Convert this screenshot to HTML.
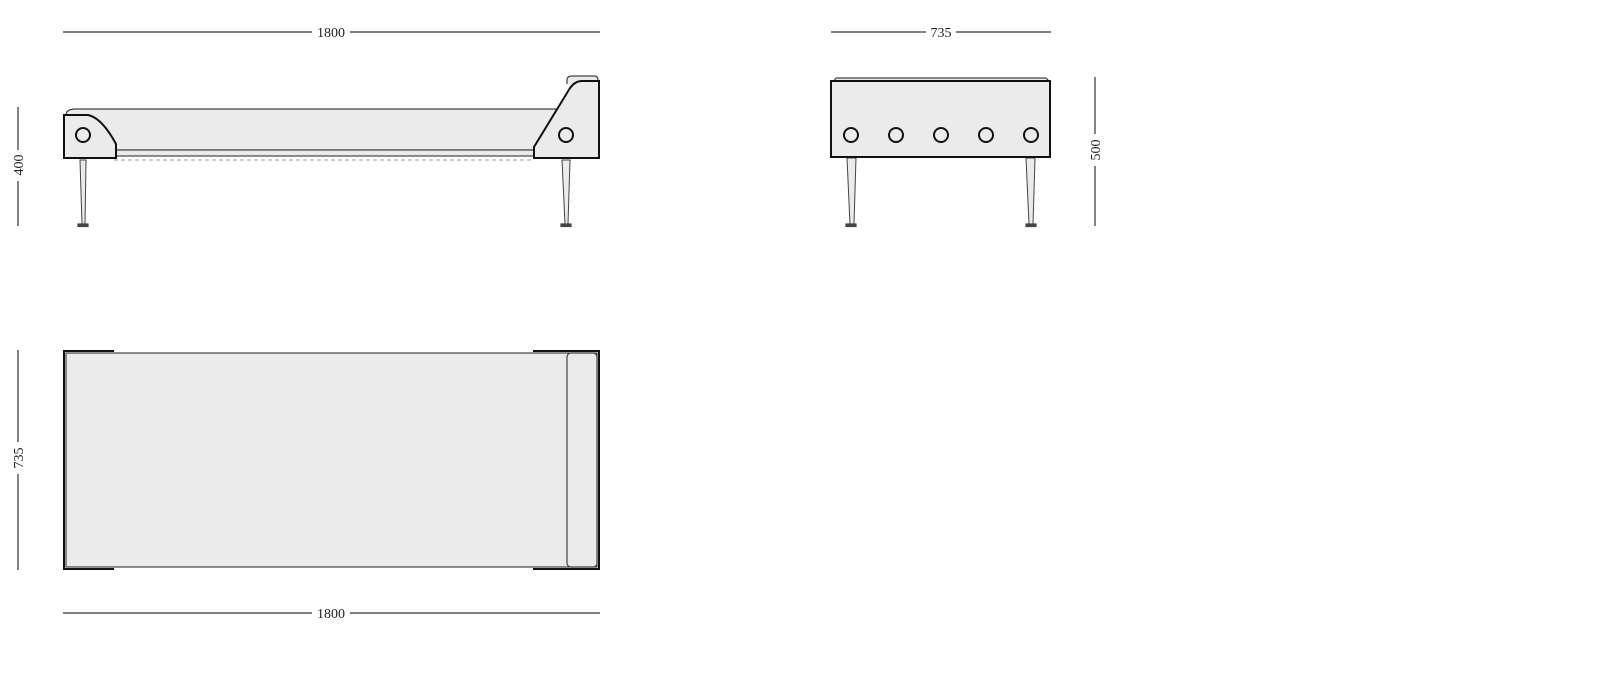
<!DOCTYPE html>
<html><head><style>html,body{margin:0;padding:0;background:#fff}svg{display:block}text{font-family:"Liberation Serif",serif;font-size:14px;fill:#222}</style></head>
<body>
<svg width="1600" height="674" viewBox="0 0 1600 674" xmlns="http://www.w3.org/2000/svg">
<g stroke="#333" stroke-width="1.2" fill="none">
<!-- dims -->
<line x1="63" y1="32" x2="312" y2="32"/><line x1="350" y1="32" x2="600" y2="32"/>
<line x1="831" y1="32" x2="926" y2="32"/><line x1="956" y1="32" x2="1051" y2="32"/>
<line x1="63" y1="613" x2="312" y2="613"/><line x1="350" y1="613" x2="600" y2="613"/>
<line x1="18" y1="107" x2="18" y2="150"/><line x1="18" y1="181" x2="18" y2="226"/>
<line x1="18" y1="350" x2="18" y2="442"/><line x1="18" y1="474" x2="18" y2="570"/>
<line x1="1095" y1="77" x2="1095" y2="134"/><line x1="1095" y1="166" x2="1095" y2="226"/>
</g>
<text x="331" y="37" text-anchor="middle">1800</text>
<text x="941" y="37" text-anchor="middle">735</text>
<text x="331" y="618" text-anchor="middle">1800</text>
<text transform="translate(23,165) rotate(-90)" text-anchor="middle">400</text>
<text transform="translate(23,458) rotate(-90)" text-anchor="middle">735</text>
<text transform="translate(1100,150) rotate(-90)" text-anchor="middle">500</text>

<!-- side view -->
<g stroke="#444" stroke-width="1.2">
<path d="M66,115 Q66,109 76,109 L556,109 L556,150 L66,150 Z" fill="#ebebeb"/>
<rect x="114" y="150" width="420" height="6" fill="#ebebeb"/>
<line x1="114" y1="160" x2="534" y2="160" stroke="#777" stroke-width="0.8" stroke-dasharray="4,3"/>
<path d="M80,160 L86,160 L85,224 L82,224 Z" fill="#ebebeb" stroke-width="1"/>
<rect x="78" y="224" width="10" height="2.5" fill="#444"/>
<path d="M562,160 L570,160 L568,224 L565,224 Z" fill="#ebebeb" stroke-width="1"/>
<rect x="561" y="224" width="10" height="2.5" fill="#444"/>
<path d="M567,84 L567,80 Q567,76 572,76 L594,76 Q598,76 598,80 L598,84" fill="#ebebeb"/>
</g>
<g stroke="#111" stroke-width="2" fill="#ebebeb">
<path d="M64,115 L88,115 Q102,118 116,144 L116,158 L64,158 Z"/>
<path d="M534,147 L570,88 Q575,81 582,81 L599,81 L599,158 L534,158 Z"/>
<circle cx="83" cy="135" r="7"/><circle cx="566" cy="135" r="7"/>
</g>

<!-- front view -->
<g stroke="#444" stroke-width="1.2">
<path d="M834,81 L836,78 L1046,78 L1049,81" fill="#ebebeb"/>
<path d="M847,158 L856,158 L854,224 L850,224 Z" fill="#ebebeb" stroke-width="1"/>
<rect x="846" y="224" width="10" height="2.5" fill="#444"/>
<path d="M1026,158 L1035,158 L1033,224 L1029,224 Z" fill="#ebebeb" stroke-width="1"/>
<rect x="1026" y="224" width="10" height="2.5" fill="#444"/>
</g>
<g stroke="#111" stroke-width="2" fill="#ebebeb">
<rect x="831" y="81" width="219" height="76"/>
<circle cx="851" cy="135" r="7"/><circle cx="896" cy="135" r="7"/><circle cx="941" cy="135" r="7"/><circle cx="986" cy="135" r="7"/><circle cx="1031" cy="135" r="7"/>
</g>

<!-- top view -->
<g stroke="#111" stroke-width="2" fill="none">
<path d="M114,351 L64,351 L64,569 L114,569"/>
<path d="M533,351 L599,351 L599,569 L533,569"/>
</g>
<g stroke="#444" stroke-width="1.2">
<rect x="66" y="353" width="531" height="214" fill="#ebebeb"/>
<rect x="567" y="353" width="30" height="214" rx="4" fill="#ebebeb"/>
</g>
</svg>
</body></html>
